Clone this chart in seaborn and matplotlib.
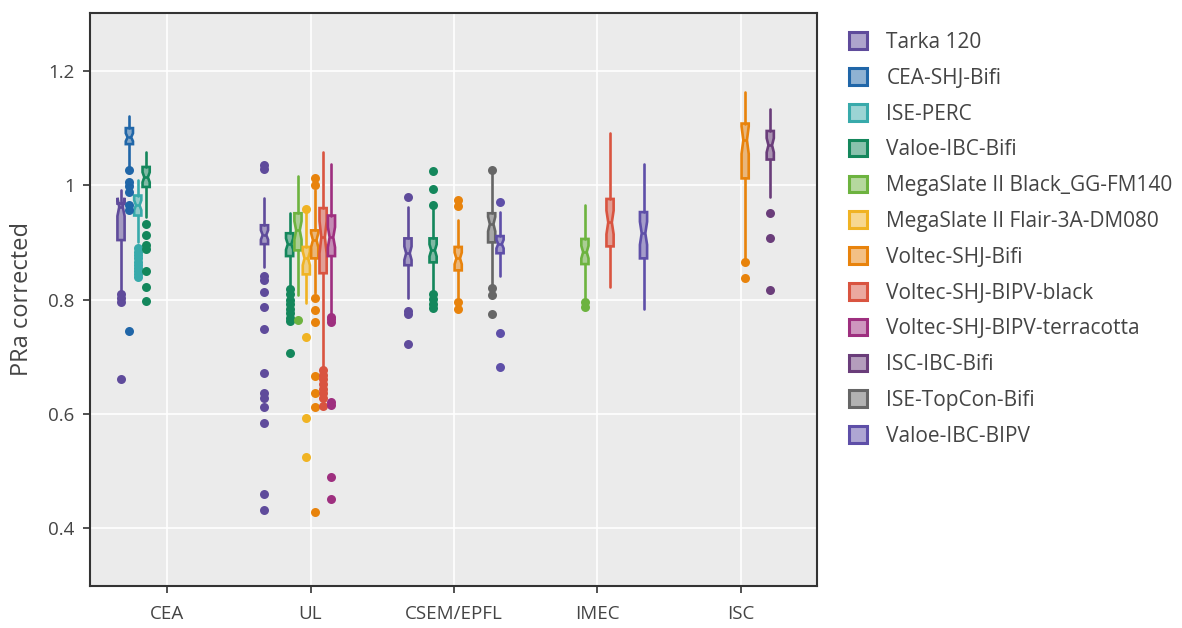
import matplotlib
matplotlib.use("Agg")
import matplotlib.pyplot as plt
from matplotlib.patches import Patch
import seaborn as sns
import pandas as pd

# ---------------- data ----------------
SITES = ["CEA", "UL", "CSEM/EPFL", "IMEC", "ISC"]
MODULES = ["Tarka 120", "CEA-SHJ-Bifi", "ISE-PERC", "Valoe-IBC-Bifi",
           "MegaSlate II Black_GG-FM140", "MegaSlate II Flair-3A-DM080",
           "Voltec-SHJ-Bifi", "Voltec-SHJ-BIPV-black",
           "Voltec-SHJ-BIPV-terracotta", "ISC-IBC-Bifi", "ISE-TopCon-Bifi",
           "Valoe-IBC-BIPV"]
COLORS = ["#5f4b9b", "#2066a8", "#38aaab", "#14875c", "#6db33f", "#f0b323",
          "#e8830c", "#d95440", "#9e2f7f", "#6a3d7a", "#666666", "#5e4fa8"]

BOX_SITE = ["CEA", "CEA", "CEA", "CEA",
            "UL", "UL", "UL", "UL", "UL", "UL", "UL",
            "CSEM/EPFL", "CSEM/EPFL", "CSEM/EPFL", "CSEM/EPFL", "CSEM/EPFL",
            "IMEC", "IMEC", "IMEC",
            "ISC", "ISC"]
BOX_MODULE = ["Tarka 120", "CEA-SHJ-Bifi", "ISE-PERC", "Valoe-IBC-Bifi",
              "Tarka 120", "Valoe-IBC-Bifi", "MegaSlate II Black_GG-FM140",
              "MegaSlate II Flair-3A-DM080", "Voltec-SHJ-Bifi",
              "Voltec-SHJ-BIPV-black", "Voltec-SHJ-BIPV-terracotta",
              "Tarka 120", "Valoe-IBC-Bifi", "Voltec-SHJ-Bifi",
              "ISE-TopCon-Bifi", "Valoe-IBC-BIPV",
              "MegaSlate II Black_GG-FM140", "Voltec-SHJ-BIPV-black",
              "Valoe-IBC-BIPV",
              "Voltec-SHJ-Bifi", "ISC-IBC-Bifi"]
WHISK_LO = [0.816, 1.030, 0.900, 0.945,
            0.857, 0.822, 0.808, 0.793, 0.812, 0.680, 0.773,
            0.802, 0.813, 0.800, 0.828, 0.841,
            0.800, 0.822, 0.783,
            0.872, 0.979]
Q1 = [0.904, 1.072, 0.947, 0.997,
      0.897, 0.876, 0.886, 0.844, 0.872, 0.846, 0.876,
      0.860, 0.865, 0.851, 0.900, 0.881,
      0.862, 0.893, 0.872,
      1.012, 1.045]
MEDIAN = [0.962, 1.084, 0.965, 1.014,
          0.913, 0.897, 0.921, 0.872, 0.904, 0.909, 0.909,
          0.881, 0.886, 0.872, 0.932, 0.897,
          0.883, 0.935, 0.916,
          1.079, 1.070]
Q3 = [0.968, 1.100, 0.982, 1.032,
      0.930, 0.916, 0.951, 0.892, 0.921, 0.960, 0.947,
      0.907, 0.907, 0.892, 0.951, 0.911,
      0.906, 0.976, 0.953,
      1.108, 1.095]
WHISK_HI = [0.991, 1.122, 1.009, 1.058,
            0.977, 0.951, 1.017, 0.951, 0.992, 1.058, 1.037,
            0.962, 0.962, 0.939, 1.022, 0.953,
            0.965, 1.091, 1.038,
            1.164, 1.133]
OUTLIERS = [
    [0.810, 0.802, 0.796, 0.660],
    [1.026, 1.005, 0.998, 0.988, 0.966, 0.957, 0.744],
    [0.890, 0.884, 0.878, 0.872, 0.866, 0.860, 0.855, 0.850, 0.845, 0.839],
    [0.933, 0.913, 0.895, 0.889, 0.850, 0.822, 0.797],
    [1.035, 1.028, 0.842, 0.834, 0.813, 0.787, 0.748, 0.671, 0.636, 0.627,
     0.612, 0.584, 0.459, 0.431],
    [0.818, 0.810, 0.800, 0.792, 0.784, 0.776, 0.768, 0.762, 0.706],
    [0.764],
    [0.958, 0.734, 0.592, 0.524],
    [1.013, 1.000, 0.802, 0.781, 0.761, 0.666, 0.636, 0.612, 0.428],
    [0.676, 0.668, 0.660, 0.652, 0.644, 0.636, 0.628, 0.613],
    [0.770, 0.765, 0.760, 0.620, 0.615, 0.489, 0.450],
    [0.980, 0.780, 0.775, 0.722],
    [1.025, 0.993, 0.966, 0.810, 0.801, 0.792, 0.785],
    [0.975, 0.963, 0.796, 0.783],
    [1.026, 0.820, 0.808, 0.774],
    [0.970, 0.741, 0.681],
    [0.796, 0.787],
    [],
    [],
    [0.866, 0.837],
    [0.951, 0.908, 0.816],
]
Y_TICKS = [0.4, 0.6, 0.8, 1.0, 1.2]
Y_TICK_LABELS = ["0.4", "0.6", "0.8", "1", "1.2"]

# ---------------- style ----------------
sns.set_theme(style="darkgrid", rc={
    "axes.facecolor": "#ebebeb",
    "grid.color": "white",
    "grid.linewidth": 1.2,
})
plt.rcParams["font.family"] = ["Open Sans", "DejaVu Sans"]

GROUP_WIDTH = 0.7
SLOT = GROUP_WIDTH / len(MODULES)
BOX_W = 0.05
NOTCH_FRAC = 0.25
LW = 1.9

fig = plt.figure(figsize=(11.82, 6.28), dpi=100)
ax = fig.add_axes([90 / 1182, 1 - 586 / 628, (817 - 90) / 1182, (586 - 13) / 628])

positions = []
for site, mod in zip(BOX_SITE, BOX_MODULE):
    positions.append(SITES.index(site) + (MODULES.index(mod) - (len(MODULES) - 1) / 2) * SLOT)

# outliers as a long-form table for seaborn
rows = []
for k, (pos, mod, outs) in enumerate(zip(positions, BOX_MODULE, OUTLIERS)):
    for v in outs:
        rows.append({"box": k, "pos": pos, "value": v, "module": mod})
df_out = pd.DataFrame(rows)

for i, (pos, mod) in enumerate(zip(positions, BOX_MODULE)):
    col = COLORS[MODULES.index(mod)]
    iqr = Q3[i] - Q1[i]
    stats = [{
        "med": MEDIAN[i], "q1": Q1[i], "q3": Q3[i],
        "whislo": WHISK_LO[i], "whishi": WHISK_HI[i],
        "cilo": MEDIAN[i] - NOTCH_FRAC * iqr, "cihi": MEDIAN[i] + NOTCH_FRAC * iqr,
        "fliers": [],
    }]
    ax.bxp(stats, positions=[pos], widths=BOX_W, shownotches=True,
           showcaps=False, showfliers=False, patch_artist=True,
           boxprops=dict(facecolor=matplotlib.colors.to_rgba(col, 0.5),
                         edgecolor=col, linewidth=LW),
           whiskerprops=dict(color=col, linewidth=LW),
           medianprops=dict(color=col, linewidth=LW),
           manage_ticks=False)
    sub = df_out[df_out["box"] == i] if len(df_out) else df_out
    if len(sub):
        sns.scatterplot(data=sub, x="pos", y="value", color=col, s=42,
                        linewidth=0, ax=ax, legend=False, zorder=3)

ax.set_xlim(-0.537, 4.53)
ax.set_ylim(0.2985, 1.3015)
ax.set_xticks(range(len(SITES)))
ax.set_xticklabels(SITES)
ax.set_yticks(Y_TICKS)
ax.set_yticklabels(Y_TICK_LABELS)
ax.set_xlabel("")
ax.set_ylabel("PRa corrected", fontsize=17, color="#444444", labelpad=10)
ax.tick_params(axis="both", which="major", labelsize=13.5, labelcolor="#444444",
               length=5, width=1.2, color="#333333", direction="out",
               bottom=True, left=True, pad=6)
ax.tick_params(axis="x", pad=9)
for sp in ax.spines.values():
    sp.set_visible(True)
    sp.set_color("#333333")
    sp.set_linewidth(1.5)

handles = [Patch(facecolor=matplotlib.colors.to_rgba(c, 0.5), edgecolor=c,
                 linewidth=2.2, label=m) for m, c in zip(MODULES, COLORS)]
fig.legend(handles=handles, loc="upper left",
           bbox_to_anchor=(849 / 1182, 1 - 32 / 628), frameon=False,
           fontsize=15, handlelength=0.85, handleheight=0.85,
           handletextpad=0.95, labelspacing=0.71, borderpad=0, borderaxespad=0,
           labelcolor="#444444")

fig.savefig("out.png", dpi=100, facecolor="white")
